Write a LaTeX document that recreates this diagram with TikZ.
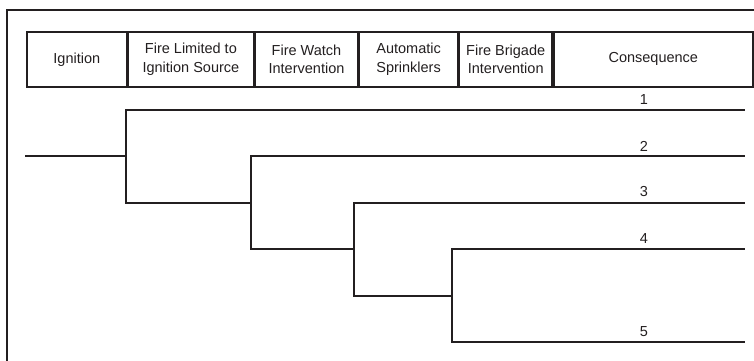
\documentclass[tikz,border=0pt]{standalone}
\usepackage{fontspec}
\setmainfont{Liberation Sans}
\definecolor{ink}{RGB}{35,31,32}
\begin{document}
\begin{tikzpicture}[x=1pt,y=-1pt,
  line/.style={draw=ink, line width=1.6pt, line cap=rect},
  head/.style={draw=ink, text=ink, line width=1.6pt, minimum height=55pt, inner sep=0pt, align=center,
               font=\fontsize{14.5}{18.5}\selectfont, anchor=north west},
  outcome/.style={text=ink, font=\fontsize{14.5}{17}\selectfont, inner sep=0pt}]
\useasboundingbox (0,0) rectangle (754,360);
\begin{scope}
\clip (0,0) rectangle (754,360);
% outer frame, open to the right and bottom
\draw[ink, line width=1.7pt] (7,370) -- (7,10) -- (770,10);
\end{scope}
% header cells
\node[head, minimum width=100pt] (h1) at (26,31) {Ignition};
\node[head, minimum width=125pt] (h2) at (h1.north east) {Fire Limited to\\Ignition Source};
\node[head, minimum width=103pt] (h3) at (h2.north east) {Fire Watch\\Intervention};
\node[head, minimum width=98pt] (h4) at (h3.north east) {Automatic\\Sprinklers};
\node[head, minimum width=93pt] (h5) at (h4.north east) {Fire Brigade\\Intervention};
\node[head, minimum width=199pt] (h6) at (h5.north east) {Consequence};
% branch points
\coordinate (s) at (26,156);
\coordinate (b1) at (126,156);
\coordinate (b1u) at (126,110);
\coordinate (b1d) at (126,203);
\coordinate (b2) at (251,203);
\coordinate (b2u) at (251,156);
\coordinate (b2d) at (251,249);
\coordinate (b3) at (354,249);
\coordinate (b3u) at (354,203);
\coordinate (b3d) at (354,296);
\coordinate (b4) at (452,296);
\coordinate (b4u) at (452,249);
\coordinate (b4d) at (452,342);
% outcome ends
\coordinate (e1) at (744,110);
\coordinate (e2) at (744,156);
\coordinate (e3) at (744,203);
\coordinate (e4) at (744,249);
\coordinate (e5) at (744,342);
% event tree
\draw[line] (s) -- (b1);
\draw[line] (e1) -- (b1u) -- (b1d) -- (b2);
\draw[line] (e2) -- (b2u) -- (b2d) -- (b3);
\draw[line] (e3) -- (b3u) -- (b3d) -- (b4);
\draw[line] (e4) -- (b4u) -- (b4d) -- (e5);
% consequence numbers
\node[outcome] (n1) at (644,100) {1};
\node[outcome] (n2) at (644,146) {2};
\node[outcome] (n3) at (644,192) {3};
\node[outcome] (n4) at (644,239) {4};
\node[outcome] (n5) at (644,332) {5};
\end{tikzpicture}
\end{document}
